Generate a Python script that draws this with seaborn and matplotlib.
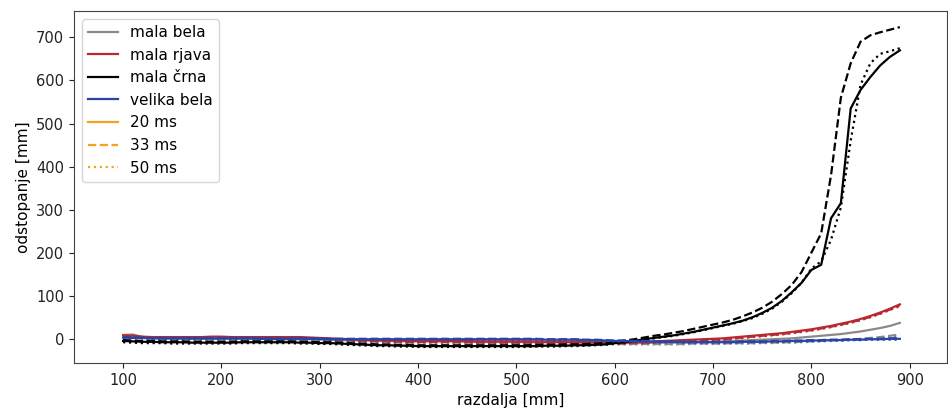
import numpy as np
import pandas as pd
import matplotlib
matplotlib.use('Agg')
import matplotlib.pyplot as plt
from matplotlib.lines import Line2D
import seaborn as sns

# razdalja [mm], one reading every 10 mm
razdalja = list(range(100, 900, 10))

materiali = ['mala bela', 'mala rjava', 'mala črna', 'velika bela']
casi = ['20 ms', '33 ms', '50 ms']
barve = {'mala bela': '#8a8a8a', 'mala rjava': '#b8282e',
         'mala črna': '#000000', 'velika bela': '#2a44a6'}

# odstopanje [mm] per material / exposure time
bela_20 = [9, 10, 4, 2, 1, 1, 0, 0, 0, 0,
           0, 0, 0, 0, 0, -1, -1, -1, -1, -1,
           -2, -2, -3, -3, -4, -4, -5, -5, -5, -6,
           -6, -6, -6, -6, -6, -7, -7, -7, -7, -7,
           -7, -8, -8, -8, -8, -8, -9, -9, -9, -9,
           -10, -10, -10, -10, -9, -9, -9, -8, -8, -7,
           -7, -6, -5, -4, -3, -2, -1, 0, 1, 3,
           5, 7, 9, 11, 14, 17, 21, 25, 30, 37]
bela_33 = [7, 6, 2, 0, -1, -1, -2, -2, -2, -2,
           -2, -2, -2, -2, -2, -3, -3, -3, -3, -3,
           -4, -4, -5, -5, -6, -6, -7, -7, -7, -8,
           -8, -8, -8, -8, -9, -9, -9, -9, -9, -10,
           -10, -10, -10, -10, -11, -11, -11, -11, -12, -12,
           -12, -12, -12, -12, -12, -12, -12, -12, -11, -11,
           -11, -11, -10, -10, -10, -9, -9, -8, -8, -7,
           -6, -5, -4, -3, -2, 0, 2, 4, 7, 10]
bela_50 = [6, 5, 1, -1, -2, -2, -3, -3, -3, -3,
           -3, -3, -3, -3, -3, -4, -4, -4, -4, -4,
           -5, -5, -6, -6, -7, -7, -8, -8, -8, -9,
           -9, -9, -9, -9, -10, -10, -10, -10, -10, -11,
           -11, -11, -11, -11, -12, -12, -12, -12, -13, -13,
           -13, -13, -13, -13, -13, -13, -13, -13, -12, -12,
           -12, -12, -11, -11, -11, -10, -10, -9, -9, -8,
           -7, -6, -5, -4, -3, -2, 0, 2, 4, 6]

rjava_20 = [8, 7, 5, 4, 4, 4, 4, 4, 4, 5,
            5, 4, 4, 4, 4, 4, 4, 4, 4, 3,
            2, 1, 0, -1, -2, -3, -3, -4, -4, -5,
            -5, -5, -5, -5, -5, -5, -6, -6, -6, -6,
            -6, -6, -6, -7, -7, -7, -7, -8, -8, -8,
            -8, -8, -7, -7, -6, -5, -4, -3, -2, -1,
            0, 1, 3, 5, 7, 9, 11, 13, 16, 19,
            22, 26, 30, 35, 40, 46, 53, 61, 70, 80]
rjava_33 = [6, 5, 3, 2, 2, 2, 2, 2, 2, 3,
            3, 2, 2, 2, 2, 2, 2, 2, 2, 1,
            0, -1, -2, -3, -4, -5, -5, -6, -6, -7,
            -7, -7, -7, -7, -7, -7, -8, -8, -8, -8,
            -8, -8, -8, -9, -9, -9, -9, -10, -10, -10,
            -10, -10, -9, -9, -8, -7, -6, -5, -4, -3,
            -2, -1, 1, 3, 5, 7, 9, 11, 14, 17,
            20, 24, 28, 33, 38, 44, 51, 59, 68, 78]
rjava_50 = [5, 4, 2, 1, 1, 1, 1, 1, 1, 2,
            2, 1, 1, 1, 1, 1, 1, 1, 1, 0,
            -1, -2, -3, -4, -5, -6, -6, -7, -7, -8,
            -8, -8, -8, -8, -8, -8, -9, -9, -9, -9,
            -9, -9, -9, -10, -10, -10, -10, -11, -11, -11,
            -11, -11, -10, -10, -9, -8, -7, -6, -5, -4,
            -3, -2, 0, 2, 4, 6, 8, 10, 13, 16,
            19, 23, 27, 32, 37, 43, 50, 58, 67, 76]

crna_20 = [-5, -6, -7, -7, -8, -8, -8, -9, -9, -9,
           -9, -9, -8, -8, -8, -8, -8, -8, -9, -9,
           -10, -10, -11, -12, -13, -14, -15, -15, -16, -16,
           -17, -17, -17, -17, -17, -17, -17, -17, -17, -17,
           -17, -17, -17, -16, -16, -16, -15, -15, -14, -13,
           -10, -8, -5, -1, 2, 5, 8, 12, 16, 21,
           26, 31, 36, 42, 50, 60, 72, 88, 108, 130,
           160, 172, 280, 315, 535, 578, 608, 635, 655, 670]
crna_33 = [-3, -4, -5, -5, -6, -6, -6, -7, -7, -7,
           -7, -7, -6, -6, -6, -6, -6, -6, -7, -7,
           -8, -8, -9, -10, -11, -12, -13, -13, -14, -14,
           -15, -15, -15, -15, -15, -15, -15, -15, -15, -15,
           -15, -15, -14, -14, -14, -13, -13, -12, -11, -10,
           -7, -4, -1, 3, 7, 10, 14, 18, 23, 28,
           33, 38, 44, 52, 61, 72, 86, 104, 125, 155,
           200, 245, 380, 560, 640, 690, 705, 712, 718, 724]
crna_50 = [-8, -9, -10, -10, -10, -11, -11, -11, -11, -11,
           -11, -11, -10, -10, -10, -10, -10, -10, -11, -11,
           -12, -12, -13, -14, -15, -16, -17, -17, -18, -18,
           -19, -19, -19, -19, -19, -19, -19, -19, -19, -19,
           -19, -19, -18, -18, -18, -17, -17, -16, -15, -14,
           -11, -9, -6, -2, 1, 4, 7, 11, 15, 20,
           25, 30, 35, 41, 48, 58, 70, 86, 106, 130,
           163, 180, 230, 305, 460, 590, 640, 662, 668, 675]

velika_20 = [3, 2, 2, 1, 1, 1, 1, 1, 1, 1,
             1, 1, 1, 1, 0, 0, 0, 0, 0, 0,
             0, -1, -1, -1, -1, -1, -1, -1, -1, -1,
             -1, -1, -1, -1, -1, -1, -1, -1, -1, -1,
             -1, -1, -1, -2, -2, -2, -2, -3, -3, -4,
             -5, -5, -6, -6, -7, -7, -7, -8, -8, -8,
             -8, -8, -8, -7, -7, -7, -6, -6, -5, -5,
             -4, -4, -3, -3, -2, -2, -1, -1, 0, 0]
velika_33 = [4, 3, 3, 2, 2, 2, 2, 2, 2, 2,
             2, 2, 2, 2, 1, 1, 1, 1, 1, 1,
             1, 0, 0, 0, 0, 0, 0, 0, 0, 0,
             0, 0, 0, 0, 0, 0, 0, 0, 0, 0,
             0, 0, 0, -1, -1, -1, -1, -2, -2, -3,
             -4, -4, -5, -5, -6, -6, -6, -7, -7, -7,
             -7, -7, -7, -6, -6, -6, -5, -5, -4, -4,
             -3, -3, -2, -2, -1, -1, 0, 0, 1, 2]
velika_50 = [2, 1, 1, 0, 0, 0, 0, 0, 0, 0,
             0, 0, 0, 0, -1, -1, -1, -1, -1, -1,
             -1, -2, -2, -2, -2, -2, -2, -2, -2, -2,
             -2, -2, -2, -2, -2, -2, -2, -2, -2, -2,
             -2, -2, -2, -3, -3, -3, -3, -4, -4, -5,
             -6, -6, -7, -7, -8, -8, -8, -9, -9, -9,
             -9, -9, -9, -8, -8, -8, -7, -7, -6, -6,
             -5, -5, -4, -4, -3, -3, -2, -2, -2, -2]

serije = {
    ('mala bela', '20 ms'): bela_20, ('mala bela', '33 ms'): bela_33, ('mala bela', '50 ms'): bela_50,
    ('mala rjava', '20 ms'): rjava_20, ('mala rjava', '33 ms'): rjava_33, ('mala rjava', '50 ms'): rjava_50,
    ('mala črna', '20 ms'): crna_20, ('mala črna', '33 ms'): crna_33, ('mala črna', '50 ms'): crna_50,
    ('velika bela', '20 ms'): velika_20, ('velika bela', '33 ms'): velika_33, ('velika bela', '50 ms'): velika_50,
}

rows = []
for (mat, cas), vals in serije.items():
    for xx, yy in zip(razdalja, vals):
        rows.append({'razdalja': xx, 'odstopanje': yy, 'material': mat, 'cas': cas})
df = pd.DataFrame(rows)

crte = {'20 ms': '', '33 ms': (3.7, 1.6), '50 ms': (1, 1.65)}

fig = plt.figure(figsize=(9.48, 4.12), dpi=100)
ax = fig.add_axes([0.078, 0.119, 0.921, 0.854])
sns.lineplot(ax=ax, data=df, x='razdalja', y='odstopanje', hue='material', style='cas',
             hue_order=materiali, style_order=casi, palette=barve, dashes=crte,
             linewidth=1.6, legend=False, estimator=None)

for sp in ax.spines.values():
    sp.set_color('#444444')
ax.tick_params(colors='#222222', labelsize=10.5)

ax.set_xlim(50, 938)
ax.set_xlabel('razdalja [mm]', fontsize=11)
ax.set_ylabel('odstopanje [mm]', fontsize=11)

handles = [Line2D([0], [0], color=barve[m], lw=1.6) for m in materiali]
handles += [Line2D([0], [0], color='#f5a31f', lw=1.6, linestyle=ls) for ls in ['-', '--', ':']]
ax.legend(handles, materiali + casi, loc='upper left', fontsize=11)

fig.savefig('out.png', dpi=100)
